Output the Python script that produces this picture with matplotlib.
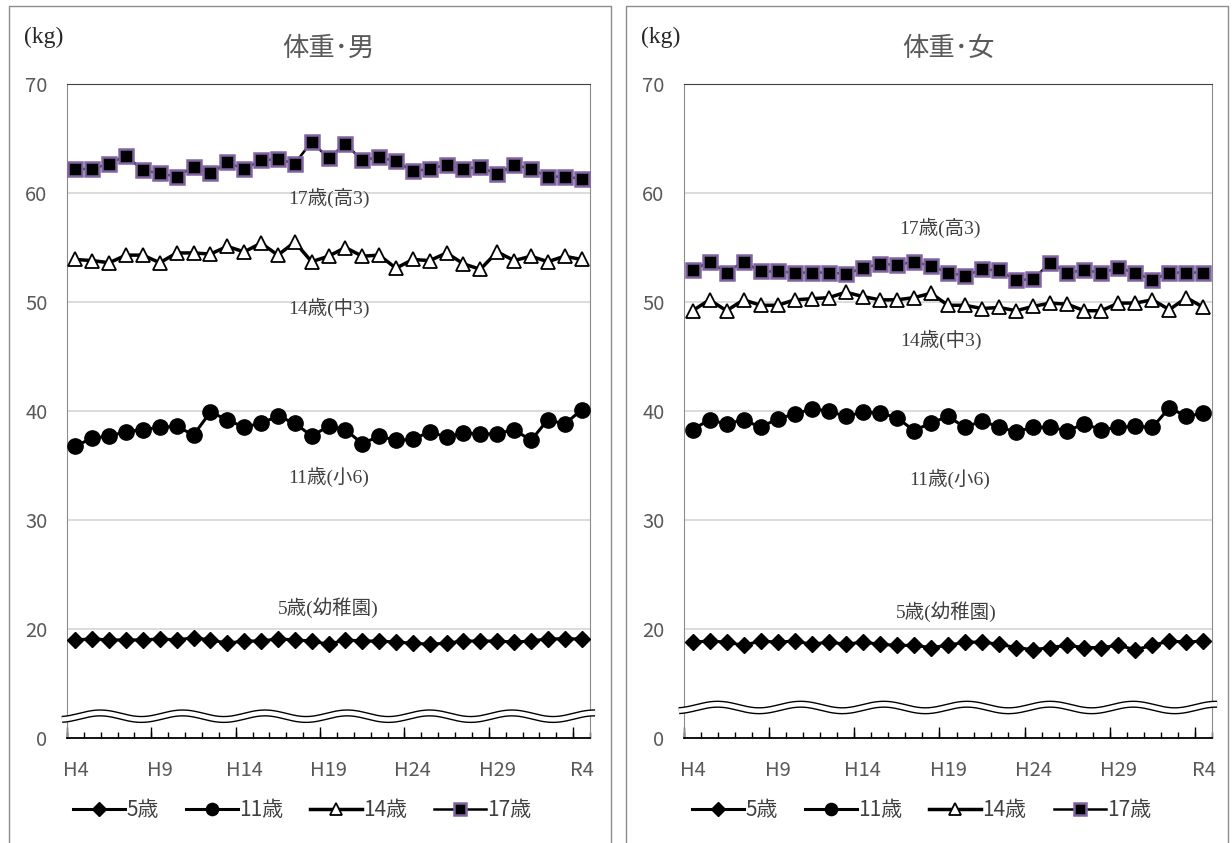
import numpy as np
import matplotlib.pyplot as plt
from matplotlib.lines import Line2D

plt.rcParams['font.family'] = ['Noto Sans CJK JP', 'DejaVu Sans']

years = ['H%d' % i for i in range(4, 31)] + ['R1', 'R2', 'R3', 'R4']

# 男子 体重 (kg)
boys_5 = [19.0, 19.1, 19.0, 19.0, 19.0, 19.1, 19.0, 19.2, 19.0, 18.7, 18.9, 18.9, 19.1, 19.0, 18.9, 18.6,
          19.0, 18.9, 18.9, 18.8, 18.7, 18.6, 18.7, 18.9, 18.9, 18.9, 18.8, 18.9, 19.1, 19.1, 19.1]
boys_11 = [36.8, 37.5, 37.7, 38.1, 38.3, 38.5, 38.6, 37.8, 39.9, 39.2, 38.5, 38.9, 39.5, 38.9, 37.7, 38.6,
           38.3, 37.0, 37.7, 37.3, 37.4, 38.1, 37.6, 38.0, 37.9, 37.9, 38.3, 37.3, 39.2, 38.8, 40.1]
boys_14 = [53.9, 53.8, 53.6, 54.3, 54.3, 53.6, 54.5, 54.5, 54.4, 55.1, 54.6, 55.4, 54.3, 55.5, 53.7, 54.2,
           55.0, 54.2, 54.3, 53.1, 53.9, 53.8, 54.5, 53.5, 53.0, 54.6, 53.8, 54.2, 53.7, 54.2, 53.9]
boys_17 = [62.2, 62.2, 62.7, 63.4, 62.1, 61.8, 61.5, 62.4, 61.8, 62.8, 62.2, 63.0, 63.1, 62.7, 64.7, 63.2,
           64.5, 63.0, 63.3, 62.9, 62.0, 62.2, 62.6, 62.2, 62.4, 61.7, 62.6, 62.2, 61.5, 61.5, 61.3]

# 女子 体重 (kg)
girls_5 = [18.8, 18.9, 18.8, 18.5, 18.9, 18.8, 18.9, 18.6, 18.8, 18.6, 18.8, 18.6, 18.5, 18.5, 18.3, 18.5,
           18.8, 18.8, 18.6, 18.3, 18.1, 18.3, 18.5, 18.3, 18.3, 18.5, 18.1, 18.5, 18.9, 18.8, 18.9]
girls_11 = [38.3, 39.2, 38.8, 39.2, 38.5, 39.3, 39.7, 40.2, 40.0, 39.5, 39.9, 39.8, 39.4, 38.2, 38.9, 39.5,
            38.5, 39.1, 38.5, 38.1, 38.5, 38.5, 38.2, 38.8, 38.3, 38.5, 38.6, 38.5, 40.3, 39.5, 39.8]
girls_14 = [49.2, 50.2, 49.2, 50.2, 49.7, 49.7, 50.2, 50.3, 50.4, 50.9, 50.5, 50.2, 50.2, 50.4, 50.8, 49.7,
            49.7, 49.4, 49.5, 49.2, 49.6, 49.9, 49.8, 49.2, 49.2, 49.9, 49.9, 50.2, 49.3, 50.4, 49.5]
girls_17 = [52.9, 53.7, 52.7, 53.7, 52.8, 52.8, 52.7, 52.7, 52.7, 52.6, 53.1, 53.5, 53.4, 53.7, 53.3, 52.7,
            52.4, 53.0, 52.9, 52.0, 52.1, 53.6, 52.7, 52.9, 52.7, 53.1, 52.7, 52.0, 52.7, 52.7, 52.7]

series_names = ['5歳', '11歳', '14歳', '17歳']
group_labels = ['17歳(高3)', '14歳(中3)', '11歳(小6)', '5歳(幼稚園)']

GRAY = '#595959'
LABEL_FONT = ['Liberation Serif', 'Noto Sans CJK JP']


def draw_panel(ax, d5, d11, d14, d17, title, label_pos, break_y):
    x = np.arange(len(years))
    ax.plot(x, d5, color='black', lw=2.2, marker='D', ms=8.5, mfc='black', mec='black', label=series_names[0], zorder=5)
    ax.plot(x, d11, color='black', lw=2.2, marker='o', ms=11, mfc='black', mec='black', label=series_names[1], zorder=5)
    ax.plot(x, d14, color='black', lw=2.5, marker='^', ms=10, mfc='white', mec='black', mew=1.3, label=series_names[2], zorder=5)
    ax.plot(x, d17, color='black', lw=1.8, marker='s', ms=10.5, mfc='black', mec='#8064a2', mew=1.8, label=series_names[3], zorder=5)

    ax.set_xlim(-0.5, len(years) - 0.5)
    ax.set_ylim(10, 70)
    ax.set_yticks(range(10, 71, 10))
    ax.set_yticklabels(['0'] + [str(v) for v in range(20, 71, 10)])
    ax.yaxis.grid(True, color='#d9d9d9', lw=1.3)
    ax.set_axisbelow(True)

    ax.set_xticks(range(0, len(years), 5))
    ax.set_xticklabels([years[i] for i in range(0, len(years), 5)])
    ax.set_xticks(np.arange(-0.5, len(years), 1), minor=True)
    ax.tick_params(axis='x', which='major', length=0, pad=16, labelsize=14.5, labelcolor=GRAY)
    ax.tick_params(axis='x', which='minor', direction='in', length=4, width=1, color='black')
    ax.tick_params(axis='y', length=0, pad=14, labelsize=14.5, labelcolor=GRAY)
    sec = ax.secondary_xaxis('bottom')
    sec.set_xticks(np.arange(-0.5, len(years), 5))
    sec.set_xticklabels([])
    sec.tick_params(direction='in', length=8, width=1, color='black')
    sec.spines['bottom'].set_visible(False)

    ax.spines['bottom'].set_color('black')
    ax.spines['bottom'].set_linewidth(1.3)
    ax.spines['top'].set_color('#404040')
    ax.spines['left'].set_color('#8c8c8c')
    ax.spines['right'].set_color('#8c8c8c')

    for lab, (lx, ly) in zip(group_labels, label_pos):
        ax.text(lx, ly, lab, ha='center', va='center', fontsize=14, color='#404040', family=LABEL_FONT)

    # axis break mark (wavy double line)
    xs = np.linspace(-0.8, len(years) - 0.2, 400)
    ys = break_y + 0.3 * np.sin(2 * np.pi * (xs - 1.47) / 4.88 + np.pi / 2)
    ax.plot(xs, ys, color='black', lw=5.2, clip_on=False, zorder=3, solid_capstyle='butt')
    ax.plot(xs, ys, color='white', lw=3.2, clip_on=False, zorder=4, solid_capstyle='butt')

    ax.set_title(title, fontsize=19, color=GRAY, pad=20)
    ax.text(-0.045, 1.072, '(kg)', transform=ax.transAxes, ha='center', va='center',
            fontsize=17, color='#262626', family=['Liberation Serif', 'DejaVu Serif'])

    ax.legend(loc='center', bbox_to_anchor=(0.45, -0.11), ncol=4, frameon=False,
              fontsize=15, labelcolor='#404040', handlelength=2.5, handletextpad=0.05,
              columnspacing=1.3, markerscale=0.8)


fig = plt.figure(figsize=(12.32, 8.43), dpi=100)
W, H = 1232.0, 843.0

ax1 = fig.add_axes([67 / W, 1 - 738 / H, (590 - 67) / W, (738 - 84) / H])
ax2 = fig.add_axes([684 / W, 1 - 738 / H, (1212 - 684) / W, (738 - 84) / H])

draw_panel(ax1, boys_5, boys_11, boys_14, boys_17, '体重･男',
           [(15, 59.6), (15, 49.5), (15, 34.0), (15, 22.0)], 12.0)
draw_panel(ax2, girls_5, girls_11, girls_14, girls_17, '体重･女',
           [(14.5, 56.8), (14.6, 46.5), (15.1, 33.8), (14.9, 21.6)], 12.8)

# chart area borders (open at the bottom)
for x0, x1 in [(9, 611), (626, 1228)]:
    fig.add_artist(Line2D([x0 / W, x0 / W, x1 / W, x1 / W], [-0.01, 1 - 6 / H, 1 - 6 / H, -0.01],
                          transform=fig.transFigure, color='#8c8c8c', lw=1))

fig.savefig('out.png', dpi=100)
